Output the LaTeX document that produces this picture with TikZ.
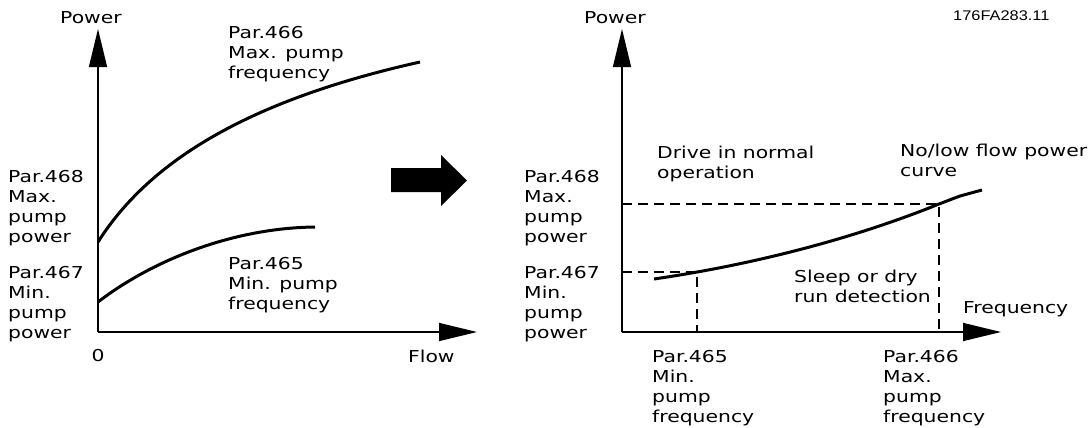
\documentclass[tikz,border=0pt]{standalone}
\usepackage{fontspec}
\setmainfont{DejaVu Sans}[FakeStretch=1.24]
\newfontfamily\idfont{Liberation Sans}[FakeStretch=1.17]
\usetikzlibrary{arrows.meta}
\tikzset{
  lbl/.style={anchor=north west, inner sep=0pt, align=left, font=\fontsize{16.4bp}{20bp}\selectfont},
  axis/.style={line width=1.5bp, -{Triangle[length=38bp,width=18bp]}},
  curveline/.style={line width=3bp},
  guide/.style={line width=1.5bp, dash pattern=on 10bp off 6bp},
}
\begin{document}
\begin{tikzpicture}[x=1bp, y=-1bp]
\useasboundingbox (0,0) rectangle (1088,427);
% ---------- left panel ----------
\coordinate (oL) at (98,332);
\coordinate (yL) at (98,29);
\coordinate (xL) at (477,332);
\draw[axis] (oL) -- (yL);
\draw[axis] (oL) -- (xL);
\draw[curveline] (98,242) .. controls (150,160) and (250,100) .. (420,62);
\draw[curveline] (98,302) .. controls (150,262) and (230,228) .. (315,227);
\node[lbl] (powL) at (60,11) {Power};
\node[lbl] (p468L) at (8,170) {Par.468\\Max.\\pump\\power};
\node[lbl] (p467L) at (8,266) {Par.467\\Min.\\pump\\power};
\node[lbl] (p466L) at (228,26) {Par.466\\Max. pump\\frequency};
\node[lbl] (p465L) at (228,257) {Par.465\\Min. pump\\frequency};
\node[lbl, anchor=north] (zero) at (98,349) {0};
\node[lbl] (flow) at (408,350) {Flow};
% ---------- big arrow ----------
\fill (391,168) -- (441,168) -- (441,155) -- (467,180.5) -- (441,206) -- (441,192) -- (391,192) -- cycle;
% ---------- right panel ----------
\coordinate (oR) at (622,332);
\coordinate (yR) at (622,29);
\coordinate (xR) at (1001,332);
\coordinate (hiL) at (622,204);
\coordinate (hiP) at (939,204);
\coordinate (hiB) at (939,332);
\coordinate (loL) at (622,272);
\coordinate (loP) at (697,272);
\coordinate (loB) at (697,332);
\draw[guide] (hiL) -- (hiP) -- (hiB);
\draw[guide] (loL) -- (loP) -- (loB);
\draw[axis] (oR) -- (yR);
\draw[axis] (oR) -- (xR);
\draw[curveline, line join=round] (654,279) .. controls (750,265) and (850,240) .. (hiP) -- (960,196) -- (982,190);
\node[lbl] (powR) at (584,11) {Power};
\node[anchor=north west, inner sep=0pt, font=\idfont\fontsize{14bp}{16bp}\selectfont] (figid) at (953,11) {176FA283.11};
\node[lbl] (p468R) at (524,170) {Par.468\\Max.\\pump\\power};
\node[lbl] (p467R) at (524,266) {Par.467\\Min.\\pump\\power};
\node[lbl] (drive) at (657,146) {Drive in normal\\operation};
\node[lbl] (nolow) at (900,144) {No/low flow power\\curve};
\node[lbl] (sleep) at (794,270) {Sleep or dry\\run detection};
\node[lbl] (freq) at (963,301) {Frequency};
\node[lbl] (p465R) at (652,350) {Par.465\\Min.\\pump\\frequency};
\node[lbl] (p466R) at (883,350) {Par.466\\Max.\\pump\\frequency};
\end{tikzpicture}
\end{document}
